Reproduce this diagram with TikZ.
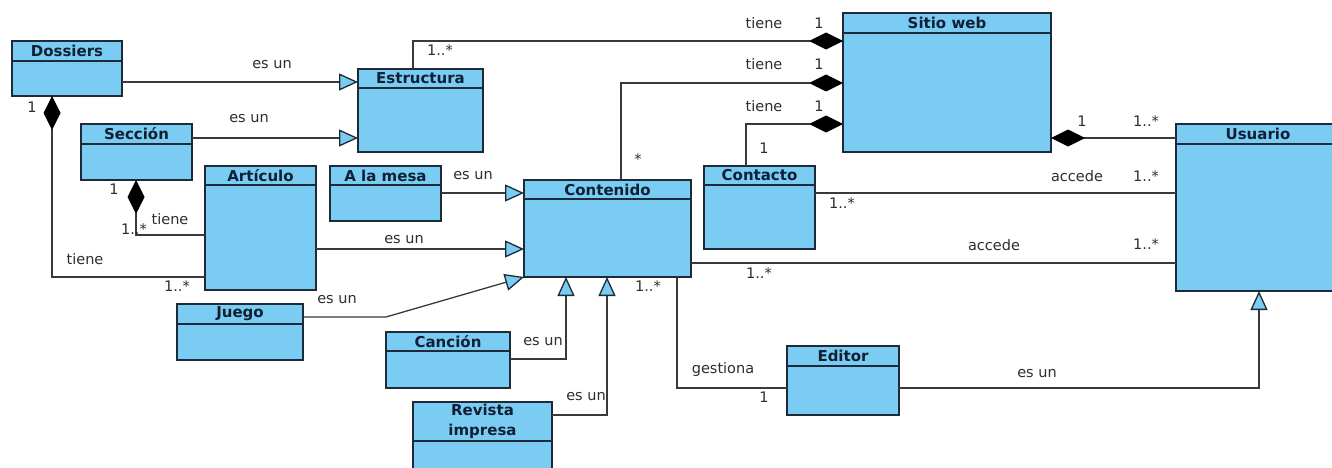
\documentclass[tikz,border=0pt]{standalone}
\usepackage{fontspec}
\setmainfont{DejaVu Sans}
\usetikzlibrary{arrows.meta,calc}

\definecolor{umlfill}{HTML}{7BCCF2}
\definecolor{umledge}{HTML}{1D2B38}
\definecolor{umltext}{HTML}{0F2035}
\definecolor{wire}{HTML}{3A3A3A}
\definecolor{labeltext}{HTML}{2E2E2E}

\tikzset{
  classbox/.style={rectangle, draw=umledge, fill=umlfill, line width=1.4pt, inner sep=0pt, outer sep=0pt},
  headrule/.style={draw=umledge, line width=1.2pt},
  classtitle/.style={font=\fontsize{15}{20}\selectfont\bfseries, text=umltext, align=center, inner sep=0pt},
  wirebase/.style={draw=wire, line width=1.3pt},
  gen/.style={wirebase, -{Triangle[length=19pt,width=17pt,color=umledge,fill=umlfill]}},
  comp/.style={wirebase, {Diamond[length=34pt,width=17pt,color=black]}-},
  lbl/.style={font=\fontsize{14.5}{16}\selectfont, text=labeltext, inner sep=0pt},
}

% name, left x, top y, width, height, header height, title
\newcommand\umlclass[7]{%
  \node[classbox, minimum width=#4pt, minimum height=#5pt, anchor=north west] (#1) at (#2,#3) {};
  \draw[headrule] ([yshift=-#6pt]#1.north west) -- ([yshift=-#6pt]#1.north east);
  \node[classtitle] (#1-title) at ([yshift=-#6pt/2]#1.north) {#7};
}

\begin{document}
\begin{tikzpicture}[x=1pt,y=-1pt]
  \useasboundingbox (0,0) rectangle (1332,468);
  \fill[white] (0,0) rectangle (1332,468);
  \clip (0,0) rectangle (1332,468);

  % classes
  \umlclass{Dossiers}{12}{41}{110}{55}{20}{Dossiers}
  \umlclass{Seccion}{81}{124}{111}{56}{20}{Sección}
  \umlclass{Art}{205}{166}{111}{124}{19}{Artículo}
  \umlclass{Juego}{177}{304}{126}{56}{20}{Juego}
  \umlclass{Estr}{358}{69}{125}{83}{19}{Estructura}
  \umlclass{Mesa}{330}{166}{111}{55}{19}{A la mesa}
  \umlclass{Cont}{524}{180}{167}{97}{19}{Contenido}
  \umlclass{Cancion}{386}{332}{124}{56}{19}{Canción}
  \umlclass{Revista}{413}{402}{139}{80}{39}{Revista\\impresa}
  \umlclass{SW}{843}{13}{208}{139}{20}{Sitio web}
  \umlclass{Contacto}{704}{166}{111}{83}{19}{Contacto}
  \umlclass{Usuario}{1176}{124}{164}{167}{20}{Usuario}
  \umlclass{Editor}{787}{346}{112}{69}{20}{Editor}

  % generalisations
  \draw[gen] (Dossiers.east |- 0,82) -- (Estr.west |- 0,82);
  \draw[gen] (Seccion.east |- 0,138) -- (Estr.west |- 0,138);
  \draw[gen] (Mesa.east |- 0,193) -- (Cont.west |- 0,193);
  \draw[gen] (Art.east |- 0,249) -- (Cont.west |- 0,249);
  \coordinate (jk) at (386,317);
  \draw[gen] (Juego.east |- jk) -- (jk) -- (Cont.south west);
  \draw[gen] (Cancion.east |- 0,359) -| (Cont.south -| 566,0);
  \draw[gen] (Revista.east |- 0,415) -| (Cont.south -| 607,0);
  \draw[gen] (Editor.east |- 0,388) -| (Usuario.south -| 1259,0);

  % compositions
  \draw[comp] (SW.west |- 0,41) -| (Estr.north -| 413,0);
  \draw[comp] (SW.west |- 0,83) -| (Cont.north -| 621,0);
  \draw[comp] (SW.west |- 0,124) -| (Contacto.north -| 746,0);
  \draw[comp] (SW.east |- 0,138) -- (Usuario.west |- 0,138);
  \draw[comp] (Dossiers.south -| 52,0) |- (Art.west |- 0,277);
  \draw[comp] (Seccion.south -| 136,0) |- (Art.west |- 0,235);

  % associations
  \draw[wirebase] (Contacto.east |- 0,193) -- (Usuario.west |- 0,193);
  \draw[wirebase] (Cont.east |- 0,263) -- (Usuario.west |- 0,263);
  \draw[wirebase] (Cont.south -| 677,0) |- (Editor.west |- 0,388);

  % role names and multiplicities
  \node[lbl] (t1) at (272,65) {es un};
  \node[lbl] (t2) at (249,119) {es un};
  \node[lbl] (t3) at (473,176) {es un};
  \node[lbl] (t4) at (404,240) {es un};
  \node[lbl] (t5) at (337,300) {es un};
  \node[lbl] (t6) at (543,342) {es un};
  \node[lbl] (t7) at (586,397) {es un};
  \node[lbl] (t8) at (1037,374) {es un};

  \node[lbl] (m1) at (440,50) {1..*};
  \node[lbl] (m2) at (764,23) {tiene};
  \node[lbl] (m3) at (819,23) {1};
  \node[lbl] (m4) at (638,159) {*};
  \node[lbl] (m5) at (764,64) {tiene};
  \node[lbl] (m6) at (819,64) {1};
  \node[lbl] (m7) at (764,106) {tiene};
  \node[lbl] (m8) at (819,106) {1};
  \node[lbl] (m9) at (764,148) {1};

  \node[lbl] (u1) at (1082,121) {1};
  \node[lbl] (u2) at (1146,121) {1..*};
  \node[lbl] (u3) at (842,203) {1..*};
  \node[lbl] (u4) at (1077,176) {accede};
  \node[lbl] (u5) at (1146,176) {1..*};
  \node[lbl] (u6) at (759,273) {1..*};
  \node[lbl] (u7) at (994,245) {accede};
  \node[lbl] (u8) at (1146,244) {1..*};

  \node[lbl] (g1) at (648,286) {1..*};
  \node[lbl] (g2) at (723,369) {gestiona};
  \node[lbl] (g3) at (764,397) {1};

  \node[lbl] (d1) at (32,107) {1};
  \node[lbl] (d2) at (85,259) {tiene};
  \node[lbl] (d3) at (177,286) {1..*};
  \node[lbl] (s1) at (114,189) {1};
  \node[lbl] (s2) at (170,219) {tiene};
  \node[lbl] (s3) at (134,229) {1..*};
\end{tikzpicture}
\end{document}
